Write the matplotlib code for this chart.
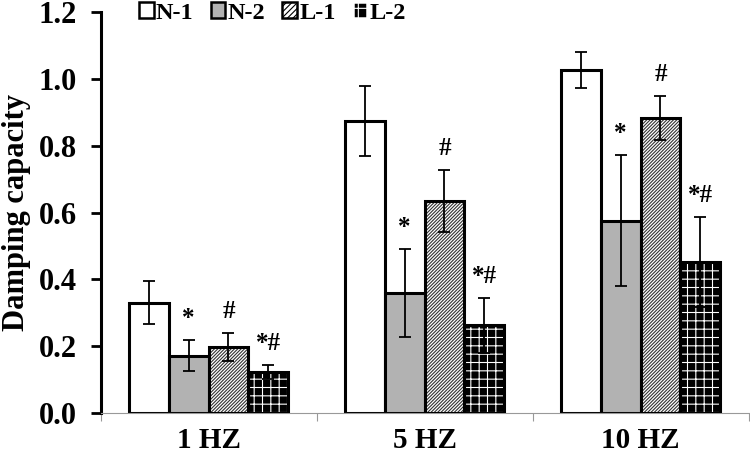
import matplotlib.pyplot as plt
import numpy as np
from matplotlib.patches import Patch

plt.rcParams['font.family'] = ['Liberation Serif', 'DejaVu Serif']
plt.rcParams['font.weight'] = 'bold'
plt.rcParams['hatch.linewidth'] = 0.8

# Datos
frecuencias = ["1 HZ", "5 HZ", "10 HZ"]
grupos = ["N-1", "N-2", "L-1", "L-2"]
n1 = [0.33, 0.874, 1.027]
n2 = [0.172, 0.36, 0.576]
l1 = [0.198, 0.635, 0.884]
l2 = [0.123, 0.262, 0.452]
n1_err = [0.064, 0.105, 0.054]
n2_err = [0.046, 0.131, 0.197]
l1_err = [0.042, 0.093, 0.066]
l2_err = [0.022, 0.083, 0.135]
marcas = ["", "*", "#", "*#"]

valores = [n1, n2, l1, l2]
errores = [n1_err, n2_err, l1_err, l2_err]

fig = plt.figure(figsize=(7.5, 4.61), dpi=100)
ax = fig.add_axes([0.134, 0.104, 0.864, 0.87])

x = np.arange(len(frecuencias))
ancho = 0.185
offsets = (np.arange(4) - 1.5) * ancho

for i in range(4):
    pos = x + offsets[i]
    if i == 0:
        ax.bar(pos, valores[i], ancho, color='white', edgecolor='black', linewidth=2.2, zorder=2)
    elif i == 1:
        ax.bar(pos, valores[i], ancho, color='#b2b2b2', edgecolor='black', linewidth=2.2, zorder=2)
    elif i == 2:
        ax.bar(pos, valores[i], ancho, color='white', edgecolor='#333333', hatch='//////////', linewidth=0, zorder=2)
        ax.bar(pos, valores[i], ancho, color='none', edgecolor='black', linewidth=2.2, zorder=3)
    else:
        ax.bar(pos, valores[i], ancho, color='black', edgecolor='white', hatch='++', linewidth=0, zorder=2)
        ax.bar(pos, valores[i], ancho, color='none', edgecolor='black', linewidth=2.2, zorder=3)
    ax.errorbar(pos, valores[i], yerr=errores[i], fmt='none', ecolor='black',
                elinewidth=1.3, capsize=4.5, capthick=1.3, zorder=4)
    if marcas[i]:
        for p, v, e in zip(pos, valores[i], errores[i]):
            ax.text(p, v + e + 0.045, marcas[i], ha='center', va='baseline',
                    fontsize=18, fontweight='bold')

ax.set_ylim(0, 1.2)
ax.set_xlim(-0.5, 2.5)
ax.set_yticks(np.arange(0, 1.21, 0.2))
ax.set_yticklabels([f"{t:.1f}" for t in np.arange(0, 1.21, 0.2)], fontsize=22, fontweight='bold')
ax.set_xticks(x)
ax.set_xticklabels(frecuencias, fontsize=21, fontweight='bold')
ax.tick_params(axis='x', which='major', length=0, pad=10)
ax.set_xticks([-0.5, 0.5, 1.5, 2.5], minor=True)
ax.tick_params(axis='x', which='minor', length=6, color='#999999', width=0.8)
ax.tick_params(axis='y', length=7, width=2, pad=10)

ax.spines['top'].set_visible(False)
ax.spines['right'].set_visible(False)
ax.spines['left'].set_linewidth(2.2)
ax.spines['bottom'].set_color('#999999')
ax.spines['bottom'].set_linewidth(0.8)

ax.set_ylabel("Damping capacity", fontsize=22, fontweight='bold')
ax.yaxis.set_label_coords(-0.108, 0.5)

handles = [
    Patch(facecolor='white', edgecolor='black', linewidth=1.8),
    Patch(facecolor='#b2b2b2', edgecolor='black', linewidth=1.8),
    Patch(facecolor='white', edgecolor='black', hatch='//////', linewidth=1.8),
    Patch(facecolor='black', edgecolor='white', hatch='+', linewidth=1.8),
]
ax.legend(handles, grupos, loc='upper left', bbox_to_anchor=(139 / 750, 0.995),
          bbox_transform=fig.transFigure, ncol=4, frameon=False,
          handlelength=0.6, handleheight=0.6, handletextpad=0.1, columnspacing=0.7,
          borderpad=0, borderaxespad=0, prop={'weight': 'bold', 'size': 17.5})

fig.savefig("out.png", dpi=100)
